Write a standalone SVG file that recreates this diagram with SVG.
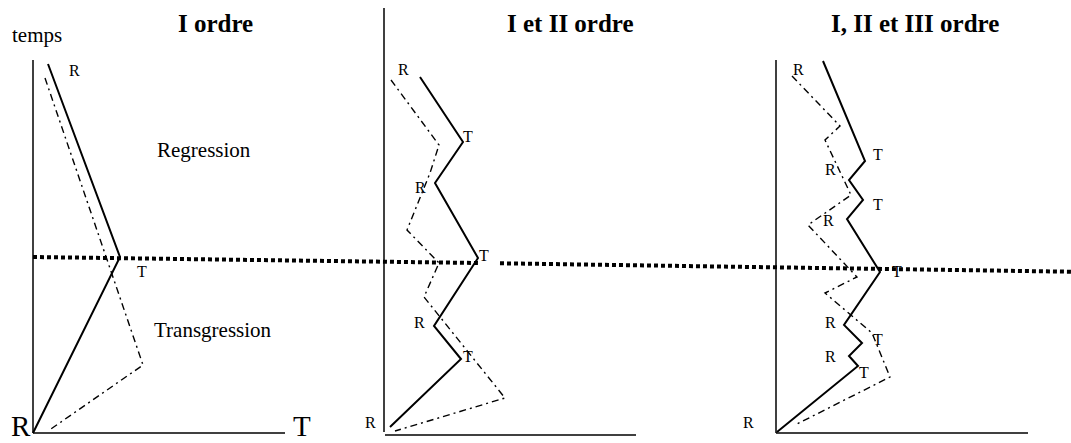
<svg xmlns="http://www.w3.org/2000/svg" width="1071" height="443" viewBox="0 0 1071 443">
<style>
.axis{stroke:#000;stroke-width:1.5;fill:none}
.solid{stroke:#000;stroke-width:2;fill:none;stroke-linejoin:miter}
.dd{stroke:#000;stroke-width:1.4;fill:none;stroke-dasharray:7 4 2 4}
.dot{stroke:#000;stroke-width:4;fill:none;stroke-dasharray:4 3}
.t{font-family:"Liberation Serif","Times New Roman",serif;fill:#000}
.lbl{font-size:16px}
.big{font-size:29px}
.mid{font-size:21px}
.title{font-size:25px;font-weight:bold}
</style>
<rect width="1071" height="443" fill="#fff"/>
<g id="titles">
<text class="t mid" x="12" y="42">temps</text>
<text class="t title" x="178" y="32">I ordre</text>
<text class="t title" x="507" y="32">I et II ordre</text>
<text class="t title" x="831" y="32">I, II et III ordre</text>
</g>
<g id="panel1">
<line class="axis" x1="33" y1="60" x2="33" y2="433"/>
<line class="axis" x1="33" y1="433" x2="285" y2="433"/>
<text class="t big" x="11" y="436">R</text>
<text class="t big" x="293" y="436">T</text>
<text class="t mid" x="157" y="157">Regression</text>
<text class="t mid" x="154" y="337">Transgression</text>
<text class="t lbl" x="69" y="76">R</text>
<text class="t lbl" x="137" y="277">T</text>
</g>
<g id="panel2">
<line class="axis" x1="384" y1="8" x2="384" y2="432"/>
<line class="axis" x1="385" y1="435" x2="636" y2="435"/>
<text class="t lbl" x="398" y="75">R</text>
<text class="t lbl" x="463" y="142">T</text>
<text class="t lbl" x="415" y="193">R</text>
<text class="t lbl" x="479" y="261">T</text>
<text class="t lbl" x="414" y="328">R</text>
<text class="t lbl" x="463" y="362">T</text>
<text class="t lbl" x="365" y="428">R</text>
</g>
<g id="panel3">
<line class="axis" x1="776" y1="60" x2="776" y2="433"/>
<line class="axis" x1="776" y1="433" x2="1028" y2="433"/>
<text class="t lbl" x="793" y="75">R</text>
<text class="t lbl" x="873" y="160">T</text>
<text class="t lbl" x="825" y="175">R</text>
<text class="t lbl" x="873" y="210">T</text>
<text class="t lbl" x="823" y="226">R</text>
<text class="t lbl" x="892" y="277">T</text>
<text class="t lbl" x="825" y="328">R</text>
<text class="t lbl" x="873" y="345">T</text>
<text class="t lbl" x="825" y="362">R</text>
<text class="t lbl" x="859" y="378">T</text>
<text class="t lbl" x="743" y="428">R</text>
</g>
<g id="connectors">
<line class="dot" x1="33" y1="257" x2="478" y2="263"/>
<line class="dot" x1="500" y1="263.3" x2="1071" y2="271.7"/>
<polyline class="solid" points="48,64 120,257 33,433"/>
<polyline class="dd" points="45,78 143,365 48,431"/>
<polyline class="solid" points="420,77 463,142 435,183 478,258 434,326 461,359 390,427"/>
<polyline class="dd" points="391,80 439,145 430,173 407,230 439,263 424,297 505,398 395,431"/>
<polyline class="solid" points="823,61 865,161 849,180 863,200 847,219 880,272 844,325 862,343 849,356 858,366 777,432"/>
<polyline class="dd" points="792,76 840,126 825,140 851,195 808,225 857,277 825,293 872,333 890,377 795,425"/>
</g>
</svg>
